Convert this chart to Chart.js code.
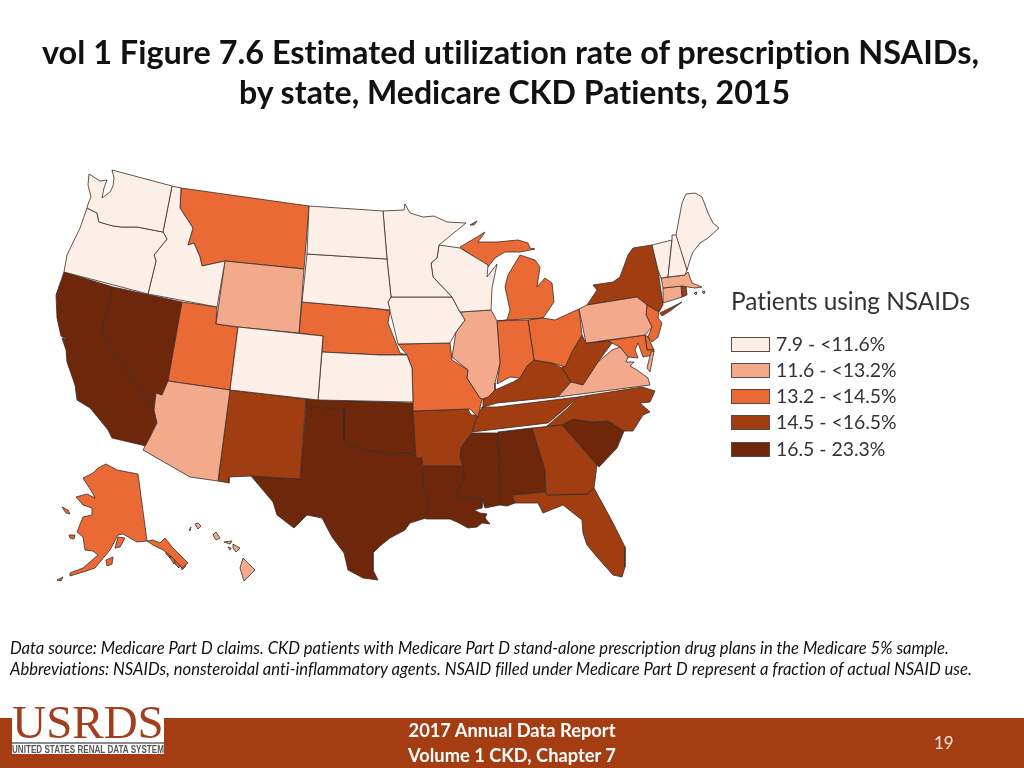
<!DOCTYPE html>
<html><head><meta charset="utf-8">
<script src="https://cdn.jsdelivr.net/npm/chart.js@4"></script>
<style>
html,body{margin:0;padding:0;background:#fff;width:1024px;height:768px;overflow:hidden}
#c{position:absolute;left:0;top:0}
.t{position:absolute;white-space:nowrap;font-family:Lato,sans-serif;font-variant-ligatures:none}
#title{left:0;width:1029px;text-align:center;font-weight:700;font-size:32.1px;color:#111;line-height:40px;top:32px}
.note{left:10px;font-style:italic;font-size:16.58px;color:#111}
#band{position:absolute;left:0;top:718px;width:1024px;height:50px;background:#a43e12}
#logo{position:absolute;left:12px;top:703px;width:152px;height:51px;background:#fff;overflow:hidden}
#logo .u{position:absolute;left:0;top:-8px;width:152px;text-align:center;font:47px "Liberation Serif",serif;color:#a23e1c}
#logo .l{position:absolute;left:0;top:39px;width:152px;height:2px;background:#8a8a8a}
#logo .s{position:absolute;left:0;top:41px;font:700 10px "Liberation Sans",sans-serif;color:#555;white-space:nowrap;transform-origin:0 0;transform:scaleX(.81)}
.f{color:#fff;font-weight:700;font-size:18.3px;width:300px;text-align:center;left:362px}
.sw{position:absolute;left:731px;width:37px;height:13px;border:1px solid #5a4a42}
.lg{left:776px;font-size:19.4px;color:#333}
</style></head><body>
<canvas id="c" width="1024" height="768"></canvas>
<div class="t" id="title"><span style="position:relative;left:-4px;font-size:32.45px">vol 1 Figure 7.6 Estimated utilization rate of prescription NSAIDs,</span><br>by state, Medicare CKD Patients, 2015</div>
<div class="t" style="left:731px;top:286px;font-size:24.4px;color:#333" id="legT"></div>
<div id="leg"></div>
<div class="t note" style="top:638px">Data source: Medicare Part D claims. CKD patients with Medicare Part D stand-alone prescription drug plans in the Medicare 5% sample.</div>
<div class="t note" style="top:659px">Abbreviations: NSAIDs, nonsteroidal anti-inflammatory agents. NSAID filled under Medicare Part D represent a fraction of actual NSAID use.</div>
<div id="band"></div>
<div id="logo"><div class="u">USRDS</div><div class="l"></div><div class="s">UNITED STATES RENAL DATA SYSTEM</div></div>
<div class="t f" style="top:719px">2017 Annual Data Report</div>
<div class="t f" style="top:744px">Volume 1 CKD, Chapter 7</div>
<div class="t" style="left:934px;top:732px;font-size:17px;color:#f4e4dc">19</div>
<script>
const legendTitle = "Patients using NSAIDs";
const binLabels = ["7.9 - <11.6%","11.6 - <13.2%","13.2 - <14.5%","14.5 - <16.5%","16.5 - 23.3%"];
const binColors = ["#fcefe8","#f2a98c","#e96a34","#a03d11","#6e270b"];

// State outlines, in map units
const WA=[[89,174,88,185,91,197,88,204,87,208,97,213,99,222,113,226,122,227,137,227,163,232,172,186,112,170,114,178,113,186,110,192,102,198,104,188,107,180,100,181]];
const OR=[[87,208,97,213,99,222,113,226,122,227,137,227,163,232,167,239,154,255,156,261,148,294,64,272,67,255,80,228]];
const ID=[[172,186,163,232,167,239,154,255,156,261,148,294,217,307,225,261,202,266,200,257,194,243,188,245,193,228,180,208,181,188]];
const MT=[[181,188,309,206,304,269,225,261,202,266,200,257,194,243,188,245,193,228,180,208]];
const WY=[[225,261,304,269,299,333,238,327,216,324]];
const CA=[[64,272,113,287,101,333,154,410,157,423,153,430,146,446,112,438,108,430,100,420,90,408,77,400,75,385,67,362,66,350,62,338,68,340,61,336,57,318,56,295]];
const NV=[[113,287,182,302,168,381,162,395,156,393,154,410,101,333]];
const UT=[[182,302,217,307,216,324,238,327,230,390,168,381]];
const AZ=[[168,381,230,390,218,481,190,477,143,450,150,437,157,423,154,410,156,393,162,395]];
const CO=[[238,327,323,336,318,400,230,390]];
const NM=[[230,390,306,399,300,479,251,476,229,477,229,483,218,481]];
const TX=[[306,407,344,409,344,442,353,447,362,449,370,451,380,452,390,455,398,453,407,453,422,458,423,483,429,498,426,518,410,523,405,530,390,538,380,546,373,553,373,570,378,580,363,578,348,570,344,553,332,537,322,518,307,515,294,528,277,515,273,502,251,476,300,479]];
const OK=[[306,399,413,403,413,411,416,457,407,453,398,453,390,455,380,452,370,451,362,449,353,447,344,442,344,409,306,407]];
const KS=[[322,352,380,355,407,355,412,368,413,402,318,400]];
const NE=[[302,302,370,308,380,309,390,311,388,323,400,353,407,355,380,355,322,352,323,336,299,333]];
const SD=[[307,254,387,259,391,297,388,302,390,310,380,309,370,308,302,302]];
const ND=[[309,206,383,211,387,259,307,254]];
const MN=[[383,211,404,210,405,204,410,213,423,217,434,216,447,222,466,223,439,245,437,258,431,263,433,277,452,297,391,297,387,259]];
const WI=[[439,245,460,248,488,265,487,277,497,264,492,288,491,310,460,312,452,297,433,277,431,263,437,258]];
const IA=[[391,297,452,297,460,312,465,320,456,332,450,343,398,344,390,311,388,302]];
const MO=[[398,344,450,343,452,360,468,370,467,378,480,398,482,399,478,417,470,409,413,411,413,402,412,368,407,355]];
const IL=[[460,312,491,310,497,321,500,363,495,383,495,390,488,397,482,399,480,398,467,378,468,370,452,357,456,332,465,320]];
const IN=[[497,321,528,320,534,360,527,366,520,378,510,377,497,384,500,363]];
const OH=[[528,320,543,318,555,320,579,309,582,335,573,350,565,367,552,363,534,360]];
const MI=[[497,321,507,320,543,318,554,302,552,283,545,278,537,287,540,267,535,260,520,255,508,275,505,287,510,310,507,320],[460,247,477,237,485,232,478,242,497,242,518,240,528,243,530,248,535,249,520,252,505,252,495,258,488,267],[470,225,477,221,474,225]];
const KY=[[483,398,495,390,513,382,520,378,527,366,534,360,552,363,562,368,571,382,557,397,497,403,483,407]];
const TN=[[482,407,497,407,578,397,567,407,548,423,472,432,477,417]];
const AR=[[413,411,468,409,471,415,477,415,472,432,466,440,461,448,460,457,463,466,423,466,422,458,416,458]];
const LA=[[423,466,463,466,464,477,455,497,482,499,482,508,474,510,480,513,487,514,485,518,490,524,482,523,477,527,468,528,459,523,450,519,437,519,426,519,429,498,422,480]];
const MS=[[472,433,498,433,500,505,485,508,482,499,455,497,457,490,464,477,463,466,460,457,461,448,466,440]];
const AL=[[498,432,532,428,545,470,546,492,512,495,515,503,507,506,500,505]];
const GA=[[532,428,562,425,597,465,594,488,587,494,547,495,546,492,545,470]];
const FL=[[512,495,546,492,547,495,587,494,588,488,594,488,613,523,625,547,625,567,622,577,613,575,597,557,587,545,583,533,582,520,563,505,543,513,538,503,515,503]];
const SC=[[562,425,573,419,592,422,608,421,624,431,617,448,599,467,597,465]];
const NC=[[547,426,568,408,578,397,642,387,655,391,650,402,640,403,650,412,643,415,633,431,624,431,608,421,592,422,573,419,562,425]];
const VA=[[558,397,571,382,583,385,598,362,612,350,620,347,628,357,626,362,634,362,630,366,637,370,648,378,650,385],[651,352,654,351,650,372,647,368]];
const WV=[[582,335,586,343,598,342,607,340,612,343,598,362,583,385,571,382,562,368,573,350]];
const PA=[[579,309,587,305,637,297,647,305,646,315,652,327,645,335,586,343]];
const NY=[[587,305,597,290,593,285,613,282,620,277,628,255,633,248,652,245,658,270,663,305,659,312,647,305,637,297],[660,313,682,302,670,311,662,316]];
const VT=[[652,245,672,240,668,277,661,278,658,270]];
const NH=[[672,235,677,235,687,270,685,275,668,277,672,240]];
const ME=[[676,235,682,203,686,194,695,193,702,197,708,213,713,223,719,228,708,238,700,243,693,252,690,260,687,270]];
const MA=[[661,278,685,275,688,272,692,283,702,287,695,288,688,287,682,286,663,288],[694,293,697,292,696,295],[702,292,705,291,704,294]];
const CT=[[663,288,681,286,682,297,663,303]];
const RI=[[681,286,686,286,687,295,682,297]];
const NJ=[[647,305,659,312,658,318,662,323,658,337,652,342,648,337,652,327,646,315]];
const DE=[[645,335,648,337,654,350,647,350]];
const MD=[[598,342,645,335,647,350,654,350,653,355,643,357,638,343,635,350,638,358,628,357,620,347,612,343,607,340]];
const AK=[[106,464,117,470,138,474,147,541,137,542,123,534,118,535,110,550,95,568,83,572,70,576,70,573,83,568,98,555,93,551,85,550,83,537,77,532,83,517,92,515,92,508,83,505,76,497,87,494,95,498,92,492,83,478,93,473,98,468],[147,541,153,540,160,543,165,538,173,548,188,563,182,568,173,558,163,550,153,545],[115,548,118,537,125,538,120,547],[106,560,113,557,112,564,107,566],[69,535,75,535,74,539,70,538],[62,507,68,510,70,514,66,513],[57,580,63,577,61,581],[166,548,170,552,170,558,166,554],[170,552,175,558,174,564,170,558],[175,558,180,562,179,568,175,564],[180,562,186,566,182,570]];
const HI=[[243,558,255,570,244,581,240,568],[233,544,240,548,236,552,233,548],[224,542,232,541,230,544],[213,535,216,532,220,538,216,540],[195,524,198,523,201,526,198,529],[189,530,191,527,190,531],[228,547,231,548,230,550]];

const lowestBin  = [WA,OR,ID,ND,SD,MN,WI,IA,CO,KS,ME,NH,VT];
const secondBin  = [WY,AZ,IL,PA,VA,MA,CT,HI];
const thirdBin   = [MT,UT,NE,MO,IN,OH,MI,NJ,MD,DE,AK];
const fourthBin  = [NM,AR,KY,WV,TN,NC,GA,FL,NY,RI];
const highestBin = [CA,NV,TX,OK,LA,MS,AL,SC];
const bins = [lowestBin,secondBin,thirdBin,fourthBin,highestBin];

document.getElementById('legT').textContent = legendTitle;
const legBox = document.getElementById('leg');
const swTops = [337,363,389,415,442];
binLabels.forEach((txt,i)=>{
  const s=document.createElement('div');s.className='sw';s.style.top=swTops[i]+'px';s.style.background=binColors[i];legBox.appendChild(s);
  const l=document.createElement('div');l.className='t lg';l.style.top=(swTops[i]-5)+'px';l.textContent=txt;legBox.appendChild(l);
});

const datasets=[];
bins.forEach((states,b)=>states.forEach(parts=>parts.forEach(flat=>{
  const pts=[];
  for(let i=0;i<flat.length;i+=2)pts.push({x:flat[i],y:flat[i+1]});
  pts.push({x:flat[0],y:flat[1]});
  datasets.push({data:pts,showLine:true,fill:'shape',backgroundColor:binColors[b],borderColor:'#3a2c26',borderWidth:0.8,pointRadius:0,tension:0,clip:false});
})));

new Chart(document.getElementById('c'),{
  type:'scatter',
  data:{datasets},
  options:{responsive:false,animation:false,events:[],
    layout:{padding:0},
    plugins:{legend:{display:false},tooltip:{enabled:false},title:{display:false}},
    scales:{x:{type:'linear',min:0,max:1024,display:false},y:{type:'linear',min:0,max:768,reverse:true,display:false}}
  }
});
</script>
</body></html>
